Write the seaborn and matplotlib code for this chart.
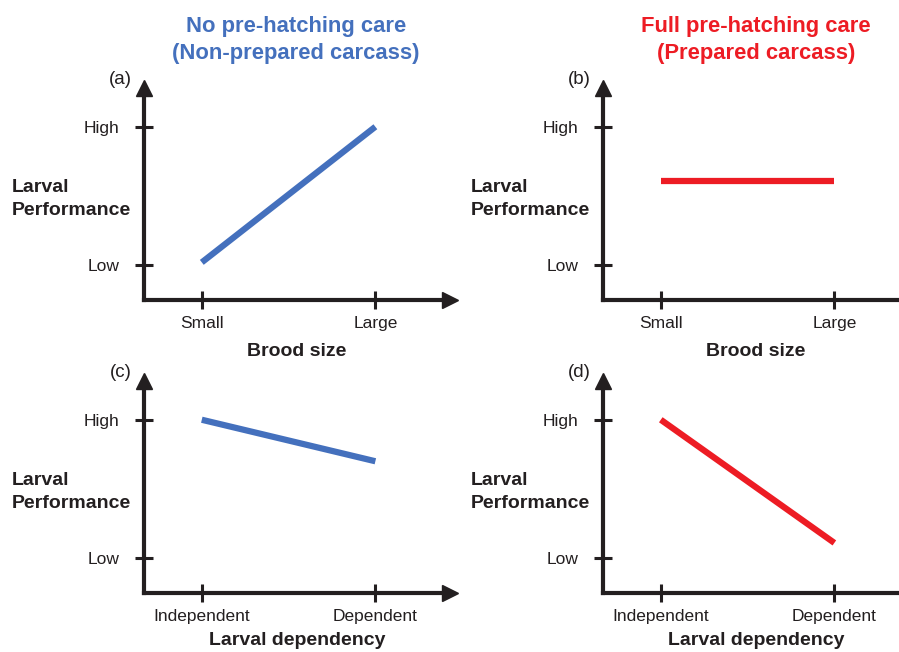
import numpy as np
import pandas as pd
import matplotlib
matplotlib.use("Agg")
import matplotlib.pyplot as plt
import seaborn as sns

# data (Low = 0, High = 1 on the performance scale)
brood_labels = ["Small", "Large"]
dep_labels = ["Independent", "Dependent"]
perf_labels = ["Low", "High"]

perf_a = [0.02, 1.0]   # no care, brood size
perf_b = [0.61, 0.61]  # full care, brood size
perf_c = [1.0, 0.70]   # no care, dependency
perf_d = [1.0, 0.11]   # full care, dependency

blue = "#4470bd"
red = "#ed1c24"
ink = "#231f20"

sns.set_style("white")
plt.rcParams["font.family"] = ["Liberation Sans", "DejaVu Sans"]

W, H = 899, 652
fig = plt.figure(figsize=(W / 100, H / 100), dpi=100)


def px_axes(x0, y0, w, h):
    # x0, y0 = origin (bottom-left) in pixels from top-left of image
    return fig.add_axes([x0 / W, 1 - y0 / H, w / W, h / H])


def draw_panel(ax, xlabels, values, color, xlabel, letter, lpad):
    df = pd.DataFrame({"x": [0, 1], "y": values})
    sns.lineplot(data=df, x="x", y="y", ax=ax, color=color, lw=4.5,
                 solid_capstyle="butt")
    ax.set_xlim(-0.333, 1.43)
    ax.set_ylim(-0.252, 1.28)
    for s in ["top", "right"]:
        ax.spines[s].set_visible(False)
    for s in ["left", "bottom"]:
        ax.spines[s].set_linewidth(3)
        ax.spines[s].set_color(ink)
    ax.plot(1, 0, ">", color=ink, ms=11, transform=ax.transAxes, clip_on=False)
    ax.plot(0, 1, "^", color=ink, ms=11, transform=ax.transAxes, clip_on=False)
    ax.set_xticks([0, 1])
    ax.set_xticklabels(xlabels)
    ax.set_yticks([0, 1])
    ax.set_yticklabels(perf_labels)
    ax.tick_params(axis="both", bottom=True, left=True, direction="inout",
                   length=13, width=2.2, color=ink, labelsize=12.5,
                   labelcolor=ink)
    ax.tick_params(axis="x", pad=5)
    ax.tick_params(axis="y", pad=11)
    ax.set_xlabel(xlabel, fontsize=14, fontweight="bold", labelpad=lpad,
                  color=ink)
    ax.set_ylabel("")
    ax.text(-0.04, 1.0, letter, transform=ax.transAxes, fontsize=13.5,
            ha="right", va="bottom", color=ink)


ax_a = px_axes(144, 300, 306, 212)
ax_b = px_axes(603, 300, 306, 212)
ax_c = px_axes(144, 593, 306, 212)
ax_d = px_axes(603, 593, 306, 212)

draw_panel(ax_a, brood_labels, perf_a, blue, "Brood size", "(a)", 9)
draw_panel(ax_b, brood_labels, perf_b, red, "Brood size", "(b)", 9)
draw_panel(ax_c, dep_labels, perf_c, blue, "Larval dependency", "(c)", 6)
draw_panel(ax_d, dep_labels, perf_d, red, "Larval dependency", "(d)", 6)

for x0, y0 in [(12, 199), (471, 199), (12, 492), (471, 492)]:
    fig.text(x0 / W, 1 - y0 / H, "Larval\nPerformance", fontsize=14,
             fontweight="bold", ha="left", va="center", linespacing=1.45,
             color=ink)

fig.text(296 / W, 1 - 40 / H, "No pre-hatching care\n(Non-prepared carcass)",
         color=blue, fontsize=15.8, fontweight="bold", ha="center", va="center",
         linespacing=1.35)
fig.text(756 / W, 1 - 40 / H, "Full pre-hatching care\n(Prepared carcass)",
         color=red, fontsize=15.8, fontweight="bold", ha="center", va="center",
         linespacing=1.35)

fig.savefig("out.png", dpi=100)
